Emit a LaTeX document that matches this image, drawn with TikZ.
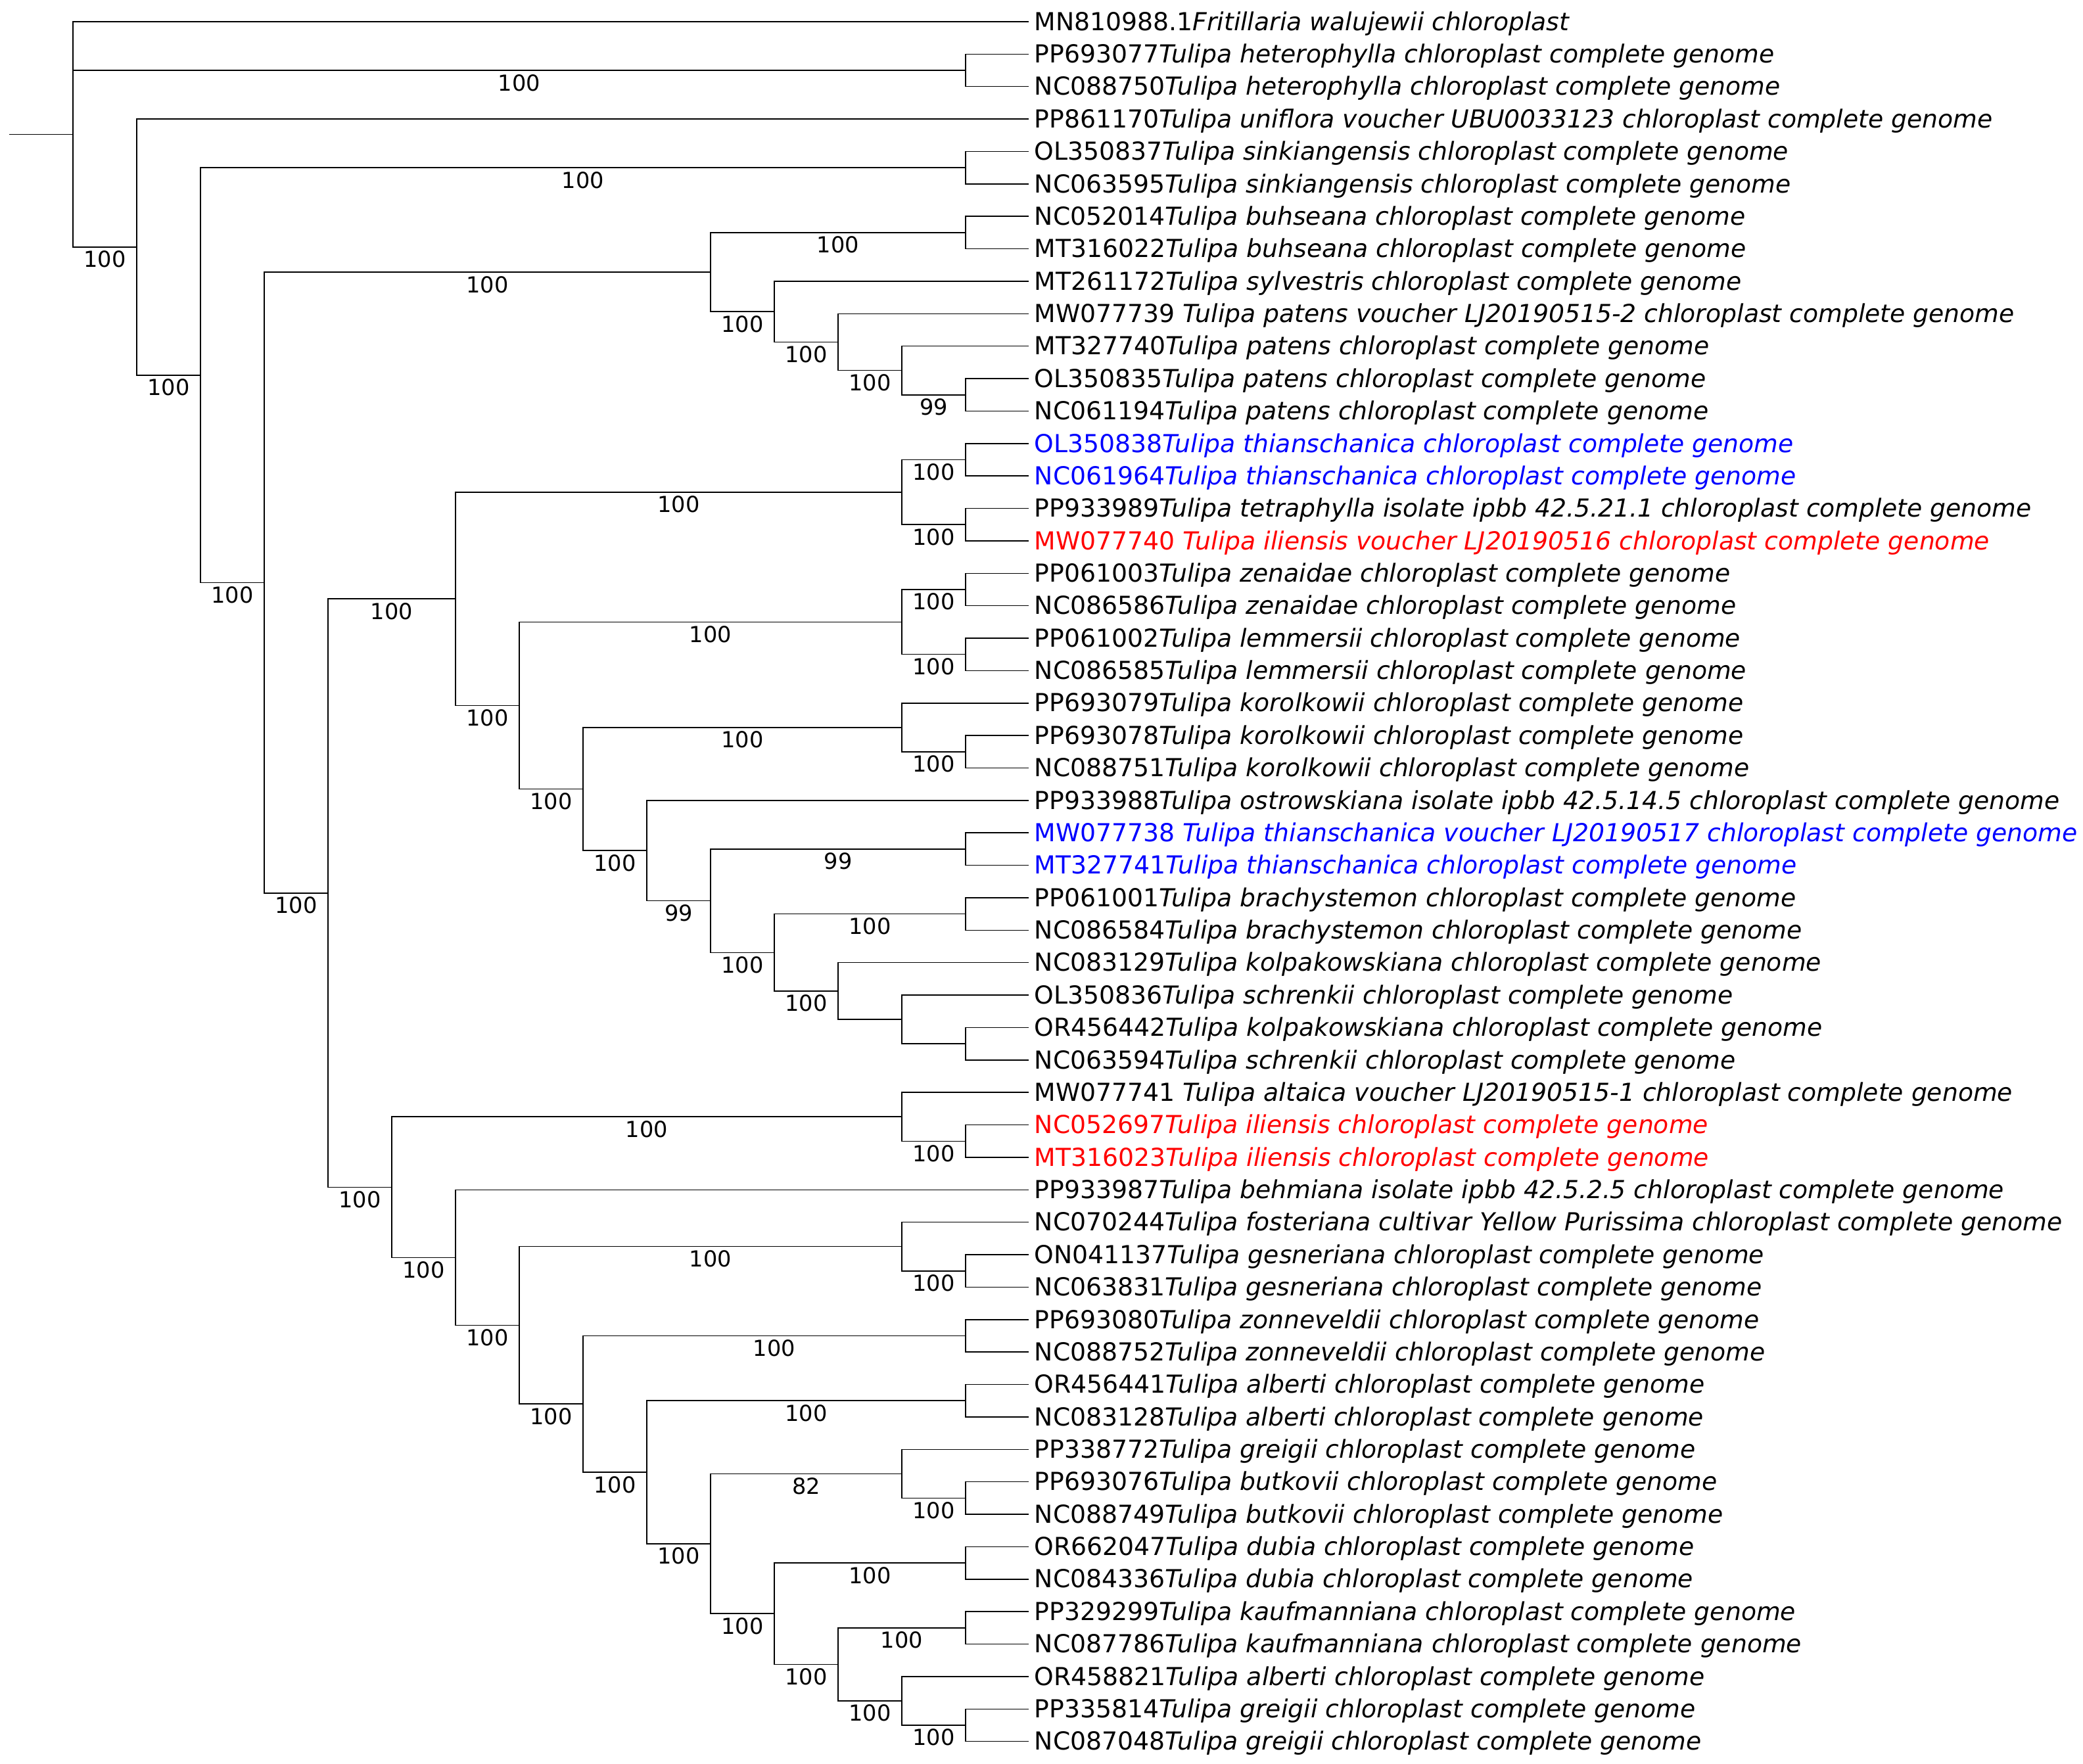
\documentclass[tikz,border=0pt]{standalone}
\usepackage{fontspec}
\setmainfont{DejaVu Sans}
\usetikzlibrary{calc}
\definecolor{hlblue}{RGB}{0,0,255}
\definecolor{hlred}{RGB}{255,0,0}
\tikzset{
  br/.style={draw=black, line width=0.38pt},
  leaf/.style={anchor=base west, inner sep=0pt, xshift=2pt, yshift=-3.3pt, font=\fontsize{9.43}{11}\selectfont},
  conf/.style={anchor=base, inner sep=0pt, yshift=-7.75pt, font=\fontsize{8.4}{10}\selectfont}
}
\newcommand\cladebr[3]{\draw[br] (#2) -- (#1 |- #2) -- (#1 |- #3) -- (#3);}
\newcommand\supp[3]{\node[conf] (s-#2) at ($(#1 |- #2)!0.5!(#2)$) {#3};}
\newcommand\leafrow[4]{\coordinate (l#1) at (1565,#1);
  \node[leaf,text=#4] (t#1) at (l#1) {#2\textit{#3}};}
\begin{document}
\begin{tikzpicture}[x=0.25pt, y=-12.3425pt]
\useasboundingbox (0,0.33158) rectangle (3169,54.6966);
% leaves
\leafrow{1}{MN810988.1}{Fritillaria walujewii chloroplast}{black}
\leafrow{2}{PP693077}{Tulipa heterophylla chloroplast complete genome}{black}
\leafrow{3}{NC088750}{Tulipa heterophylla chloroplast complete genome}{black}
\leafrow{4}{PP861170}{Tulipa uniflora voucher UBU0033123 chloroplast complete genome}{black}
\leafrow{5}{OL350837}{Tulipa sinkiangensis chloroplast complete genome}{black}
\leafrow{6}{NC063595}{Tulipa sinkiangensis chloroplast complete genome}{black}
\leafrow{7}{NC052014}{Tulipa buhseana chloroplast complete genome}{black}
\leafrow{8}{MT316022}{Tulipa buhseana chloroplast complete genome}{black}
\leafrow{9}{MT261172}{Tulipa sylvestris chloroplast complete genome}{black}
\leafrow{10}{MW077739 }{Tulipa patens voucher LJ20190515-2 chloroplast complete genome}{black}
\leafrow{11}{MT327740}{Tulipa patens chloroplast complete genome}{black}
\leafrow{12}{OL350835}{Tulipa patens chloroplast complete genome}{black}
\leafrow{13}{NC061194}{Tulipa patens chloroplast complete genome}{black}
\leafrow{14}{OL350838}{Tulipa thianschanica chloroplast complete genome}{hlblue}
\leafrow{15}{NC061964}{Tulipa thianschanica chloroplast complete genome}{hlblue}
\leafrow{16}{PP933989}{Tulipa tetraphylla isolate ipbb 42.5.21.1 chloroplast complete genome}{black}
\leafrow{17}{MW077740 }{Tulipa iliensis voucher LJ20190516 chloroplast complete genome}{hlred}
\leafrow{18}{PP061003}{Tulipa zenaidae chloroplast complete genome}{black}
\leafrow{19}{NC086586}{Tulipa zenaidae chloroplast complete genome}{black}
\leafrow{20}{PP061002}{Tulipa lemmersii chloroplast complete genome}{black}
\leafrow{21}{NC086585}{Tulipa lemmersii chloroplast complete genome}{black}
\leafrow{22}{PP693079}{Tulipa korolkowii chloroplast complete genome}{black}
\leafrow{23}{PP693078}{Tulipa korolkowii chloroplast complete genome}{black}
\leafrow{24}{NC088751}{Tulipa korolkowii chloroplast complete genome}{black}
\leafrow{25}{PP933988}{Tulipa ostrowskiana isolate ipbb 42.5.14.5 chloroplast complete genome}{black}
\leafrow{26}{MW077738 }{Tulipa thianschanica voucher LJ20190517 chloroplast complete genome}{hlblue}
\leafrow{27}{MT327741}{Tulipa thianschanica chloroplast complete genome}{hlblue}
\leafrow{28}{PP061001}{Tulipa brachystemon chloroplast complete genome}{black}
\leafrow{29}{NC086584}{Tulipa brachystemon chloroplast complete genome}{black}
\leafrow{30}{NC083129}{Tulipa kolpakowskiana chloroplast complete genome}{black}
\leafrow{31}{OL350836}{Tulipa schrenkii chloroplast complete genome}{black}
\leafrow{32}{OR456442}{Tulipa kolpakowskiana chloroplast complete genome}{black}
\leafrow{33}{NC063594}{Tulipa schrenkii chloroplast complete genome}{black}
\leafrow{34}{MW077741 }{Tulipa altaica voucher LJ20190515-1 chloroplast complete genome}{black}
\leafrow{35}{NC052697}{Tulipa iliensis chloroplast complete genome}{hlred}
\leafrow{36}{MT316023}{Tulipa iliensis chloroplast complete genome}{hlred}
\leafrow{37}{PP933987}{Tulipa behmiana isolate ipbb 42.5.2.5 chloroplast complete genome}{black}
\leafrow{38}{NC070244}{Tulipa fosteriana cultivar Yellow Purissima chloroplast complete genome}{black}
\leafrow{39}{ON041137}{Tulipa gesneriana chloroplast complete genome}{black}
\leafrow{40}{NC063831}{Tulipa gesneriana chloroplast complete genome}{black}
\leafrow{41}{PP693080}{Tulipa zonneveldii chloroplast complete genome}{black}
\leafrow{42}{NC088752}{Tulipa zonneveldii chloroplast complete genome}{black}
\leafrow{43}{OR456441}{Tulipa alberti chloroplast complete genome}{black}
\leafrow{44}{NC083128}{Tulipa alberti chloroplast complete genome}{black}
\leafrow{45}{PP338772}{Tulipa greigii chloroplast complete genome}{black}
\leafrow{46}{PP693076}{Tulipa butkovii chloroplast complete genome}{black}
\leafrow{47}{NC088749}{Tulipa butkovii chloroplast complete genome}{black}
\leafrow{48}{OR662047}{Tulipa dubia chloroplast complete genome}{black}
\leafrow{49}{NC084336}{Tulipa dubia chloroplast complete genome}{black}
\leafrow{50}{PP329299}{Tulipa kaufmanniana chloroplast complete genome}{black}
\leafrow{51}{NC087786}{Tulipa kaufmanniana chloroplast complete genome}{black}
\leafrow{52}{OR458821}{Tulipa alberti chloroplast complete genome}{black}
\leafrow{53}{PP335814}{Tulipa greigii chloroplast complete genome}{black}
\leafrow{54}{NC087048}{Tulipa greigii chloroplast complete genome}{black}
% internal nodes (x = 111 + 97 k)
\coordinate (rs)   at (14,4.473236);
\coordinate (root) at (111,4.473236);
\coordinate (het)  at (1469,2.5);
\coordinate (B)    at (208,7.946472);
\coordinate (C)    at (305,11.892944);
\coordinate (sink) at (1469,5.5);
\coordinate (D)    at (402,18.285889);
\coordinate (E)    at (1081,8.71875);
\coordinate (buh)  at (1469,7.5);
\coordinate (G)    at (1178,9.9375);
\coordinate (H)    at (1275,10.875);
\coordinate (I)    at (1372,11.75);
\coordinate (J)    at (1469,12.5);
\coordinate (F)    at (499,27.853027);
\coordinate (K)    at (693,18.787109);
\coordinate (M)    at (1372,15.5);
\coordinate (thiA) at (1469,14.5);
\coordinate (tet)  at (1469,16.5);
\coordinate (N)    at (790,22.074219);
\coordinate (O)    at (1372,19.5);
\coordinate (zen)  at (1469,18.5);
\coordinate (lem)  at (1469,20.5);
\coordinate (P)    at (887,24.648438);
\coordinate (Q)    at (1372,22.75);
\coordinate (kor)  at (1469,23.5);
\coordinate (R)    at (984,26.546875);
\coordinate (S)    at (1081,28.09375);
\coordinate (thiB) at (1469,26.5);
\coordinate (T)    at (1178,29.6875);
\coordinate (bra)  at (1469,28.5);
\coordinate (U)    at (1275,30.875);
\coordinate (V)    at (1372,31.75);
\coordinate (Vb)   at (1469,32.5);
\coordinate (L)    at (596,36.918945);
\coordinate (W)    at (1372,34.75);
\coordinate (ili)  at (1469,35.5);
\coordinate (X)    at (693,39.087891);
\coordinate (Y)    at (790,41.175781);
\coordinate (Z)    at (1372,38.75);
\coordinate (ges)  at (1469,39.5);
\coordinate (AA)   at (887,43.601563);
\coordinate (zon)  at (1469,41.5);
\coordinate (AB)   at (984,45.703125);
\coordinate (alb)  at (1469,43.5);
\coordinate (AC)   at (1081,47.90625);
\coordinate (AD)   at (1372,45.75);
\coordinate (but)  at (1469,46.5);
\coordinate (AE)   at (1178,50.0625);
\coordinate (dub)  at (1469,48.5);
\coordinate (AF)   at (1275,51.625);
\coordinate (kau)  at (1469,50.5);
\coordinate (AG)   at (1372,52.75);
\coordinate (gre)  at (1469,53.5);
% branches
\draw[br] (rs) -- (root);
\draw[br] (l1) -- (root |- l1) -- (root |- B) -- (B);
\draw[br] (het) -- (root |- het);
\cladebr{het}{l2}{l3}
\cladebr{B}{l4}{C}
\cladebr{C}{sink}{D}
\cladebr{sink}{l5}{l6}
\cladebr{D}{E}{F}
\cladebr{E}{buh}{G}
\cladebr{buh}{l7}{l8}
\cladebr{G}{l9}{H}
\cladebr{H}{l10}{I}
\cladebr{I}{l11}{J}
\cladebr{J}{l12}{l13}
\cladebr{F}{K}{L}
\cladebr{K}{M}{N}
\cladebr{M}{thiA}{tet}
\cladebr{thiA}{l14}{l15}
\cladebr{tet}{l16}{l17}
\cladebr{N}{O}{P}
\cladebr{O}{zen}{lem}
\cladebr{zen}{l18}{l19}
\cladebr{lem}{l20}{l21}
\cladebr{P}{Q}{R}
\cladebr{Q}{l22}{kor}
\cladebr{kor}{l23}{l24}
\cladebr{R}{l25}{S}
\cladebr{S}{thiB}{T}
\cladebr{thiB}{l26}{l27}
\cladebr{T}{bra}{U}
\cladebr{bra}{l28}{l29}
\cladebr{U}{l30}{V}
\cladebr{V}{l31}{Vb}
\cladebr{Vb}{l32}{l33}
\cladebr{L}{W}{X}
\cladebr{W}{l34}{ili}
\cladebr{ili}{l35}{l36}
\cladebr{X}{l37}{Y}
\cladebr{Y}{Z}{AA}
\cladebr{Z}{l38}{ges}
\cladebr{ges}{l39}{l40}
\cladebr{AA}{zon}{AB}
\cladebr{zon}{l41}{l42}
\cladebr{AB}{alb}{AC}
\cladebr{alb}{l43}{l44}
\cladebr{AC}{AD}{AE}
\cladebr{AD}{l45}{but}
\cladebr{but}{l46}{l47}
\cladebr{AE}{dub}{AF}
\cladebr{dub}{l48}{l49}
\cladebr{AF}{kau}{AG}
\cladebr{kau}{l50}{l51}
\cladebr{AG}{l52}{gre}
\cladebr{gre}{l53}{l54}
% support values
\supp{root}{het}{100}
\supp{root}{B}{100}
\supp{B}{C}{100}
\supp{C}{sink}{100}
\supp{C}{D}{100}
\supp{D}{E}{100}
\supp{E}{buh}{100}
\supp{E}{G}{100}
\supp{G}{H}{100}
\supp{H}{I}{100}
\supp{I}{J}{99}
\supp{D}{F}{100}
\supp{F}{K}{100}
\supp{K}{M}{100}
\supp{M}{thiA}{100}
\supp{M}{tet}{100}
\supp{K}{N}{100}
\supp{N}{O}{100}
\supp{O}{zen}{100}
\supp{O}{lem}{100}
\supp{N}{P}{100}
\supp{P}{Q}{100}
\supp{Q}{kor}{100}
\supp{P}{R}{100}
\supp{R}{S}{99}
\supp{S}{thiB}{99}
\supp{S}{T}{100}
\supp{T}{bra}{100}
\supp{T}{U}{100}
\supp{F}{L}{100}
\supp{L}{W}{100}
\supp{W}{ili}{100}
\supp{L}{X}{100}
\supp{X}{Y}{100}
\supp{Y}{Z}{100}
\supp{Z}{ges}{100}
\supp{Y}{AA}{100}
\supp{AA}{zon}{100}
\supp{AA}{AB}{100}
\supp{AB}{alb}{100}
\supp{AB}{AC}{100}
\supp{AC}{AD}{82}
\supp{AD}{but}{100}
\supp{AC}{AE}{100}
\supp{AE}{dub}{100}
\supp{AE}{AF}{100}
\supp{AF}{kau}{100}
\supp{AF}{AG}{100}
\supp{AG}{gre}{100}
\end{tikzpicture}
\end{document}
